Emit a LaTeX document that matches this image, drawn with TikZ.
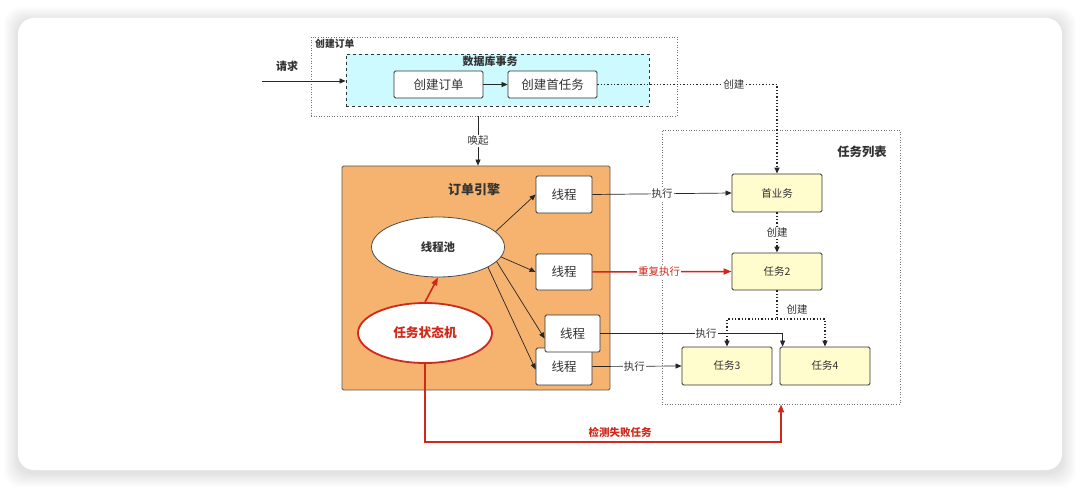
\documentclass[tikz,border=0pt]{standalone}
\usepackage{fontspec}
\setmainfont{Noto Sans CJK SC}
\usetikzlibrary{arrows.meta,shapes.geometric}

\definecolor{dbcyan}{HTML}{CCFAFF}
\definecolor{engineorange}{HTML}{F5B36F}
\definecolor{taskyellow}{HTML}{FFFCCD}
\definecolor{alarmred}{HTML}{D0281A}
\definecolor{inkgray}{HTML}{333333}

\newcommand{\fsz}[1]{\fontsize{#1}{#1}\selectfont}

\tikzset{
    box/.style={draw=black!80, fill=white, rounded corners=1.5pt, line width=0.8pt,
        minimum width=89pt, minimum height=27pt, inner sep=0pt, text=inkgray, font=\fsz{12.5}},
    thread/.style={box, minimum width=56pt, minimum height=37pt},
    task/.style={box, fill=taskyellow, minimum width=90pt, minimum height=38pt, font=\fsz{10.5}},
    title/.style={text=inkgray, font=\fsz{11}\bfseries, inner sep=1pt},
    tag/.style={fill=white, text=inkgray, font=\fsz{10.5}, inner sep=1pt},
    arr/.style={-{Triangle[length=6pt,width=5pt]}, line width=0.7pt, black!85},
    redarr/.style={-{Triangle[length=8pt,width=6pt]}, line width=1.6pt, alarmred},
    dotarr/.style={-{Triangle[length=6pt,width=5pt]}, line width=1.3pt, dotted, black!85},
}

\begin{document}
\begin{tikzpicture}[x=1pt, y=-1pt]
    \useasboundingbox (0,0) rectangle (1081,489);

    % card with soft shadow
    \foreach \i in {1,...,14}
        \fill[black, opacity=0.009, rounded corners=16pt] (18-\i,18-\i+3) rectangle (1062+\i,470+\i+3);
    \fill[white, rounded corners=16pt] (18,18) rectangle (1062,470);

    % create order group
    \node[draw=black!55, dotted, line width=0.6pt, minimum width=366pt, minimum height=79pt] (creategrp) at (494,76.5) {};
    \node[title, font=\fsz{9.8}\bfseries, anchor=west] (creategrplabel) at (314,44) {创建订单};
    \node[draw=black!80, dashed, fill=dbcyan, line width=0.8pt, minimum width=303pt, minimum height=52pt] (dbtx) at (497.5,80) {};
    \node[title] (dbtxlabel) at (490,61) {数据库事务};
    \node[box] (order) at (438.5,84.5) {创建订单};
    \node[box] (firsttask) at (552.5,84.5) {创建首任务};
    \node[title] (reqlabel) at (287,66) {请求};
    \coordinate (reqstart) at (262,81);
    \draw[arr] (reqstart) -- (reqstart -| dbtx.west);
    \draw[arr] (order) -- (firsttask);

    % order engine
    \node[draw=black!65, fill=engineorange, rounded corners=1.5pt, line width=0.8pt,
        minimum width=268pt, minimum height=224pt] (engine) at (476,278) {};
    \node[title, font=\fsz{13}\bfseries] (enginelabel) at (474,190) {订单引擎};
    \node[ellipse, draw=black!70, fill=white, line width=0.8pt, minimum width=133pt, minimum height=60pt,
        title, font=\fsz{11.4}\bfseries] (pool) at (438,247) {线程池};
    \node[ellipse, draw=alarmred, fill=white, line width=1.8pt, minimum width=134pt, minimum height=60pt,
        text=alarmred, font=\fsz{12.7}\bfseries] (fsm) at (425,333) {任务状态机};
    \node[thread] (thread1) at (564,194.5) {线程};
    \node[thread, minimum height=36pt] (thread2) at (564,272) {线程};
    \node[thread] (thread4) at (564,366.5) {线程};
    \node[thread, minimum width=55pt] (thread3) at (572.5,333.5) {线程};

    \draw[arr] ([xshift=-16pt]creategrp.south) -- node[tag] {唤起} ([xshift=2pt]engine.north);
    \draw[arr] (pool.15) -- (thread1.west);
    \draw[arr] (pool.-9) -- (thread2.west);
    \draw[arr] (pool.-14) -- ([yshift=-5pt]thread3.west);
    \draw[arr] (pool.-22) -- ([yshift=-3pt]thread4.west);
    \draw[redarr] (fsm.north) -- (pool.south);

    % task list
    \node[draw=black!55, dotted, line width=0.6pt, minimum width=238pt, minimum height=274pt] (tasklist) at (781,267) {};
    \node[title, font=\fsz{12.3}\bfseries] (tasklistlabel) at (862,152) {任务列表};
    \node[task] (headtask) at (777,193) {首业务};
    \node[task, minimum height=37pt] (task2) at (777,271.5) {任务2};
    \node[task] (task3) at (727,366) {任务3};
    \node[task] (task4) at (825,366) {任务4};

    \draw[dotarr] (firsttask.east) -| node[tag, pos=0.38] {创建} (headtask.north);
    \draw[dotarr] (headtask.south) -- node[tag] {创建} (task2.north);
    \coordinate (split) at (777,319);
    \draw[dotarr] (task2.south) -- (split) -| (task3.north);
    \draw[dotarr] (split) -| (task4.north);
    \node[tag, fill=none] (splitlabel) at (797,310) {创建};

    \draw[arr] (thread1.east) -- node[tag, pos=0.5] {执行} (headtask.west);
    \draw[redarr, line width=1.5pt] (thread2.east) -- node[tag, text=alarmred, pos=0.48] {重复执行} (task2.west);
    \draw[arr] (thread3.east) -| node[tag, pos=0.29] {执行} ([xshift=3pt]task4.north west);
    \draw[arr] (thread4.east) -- node[tag, pos=0.47] {执行} (task3.west);

    % failed task detection
    \coordinate (failturn) at (781,442);
    \draw[redarr] (fsm.south) |- (failturn) -- (tasklist.south);
    \node[text=alarmred, font=\fsz{10.5}\bfseries, inner sep=1pt] (faillabel) at (620,432) {检测失败任务};
\end{tikzpicture}
\end{document}
